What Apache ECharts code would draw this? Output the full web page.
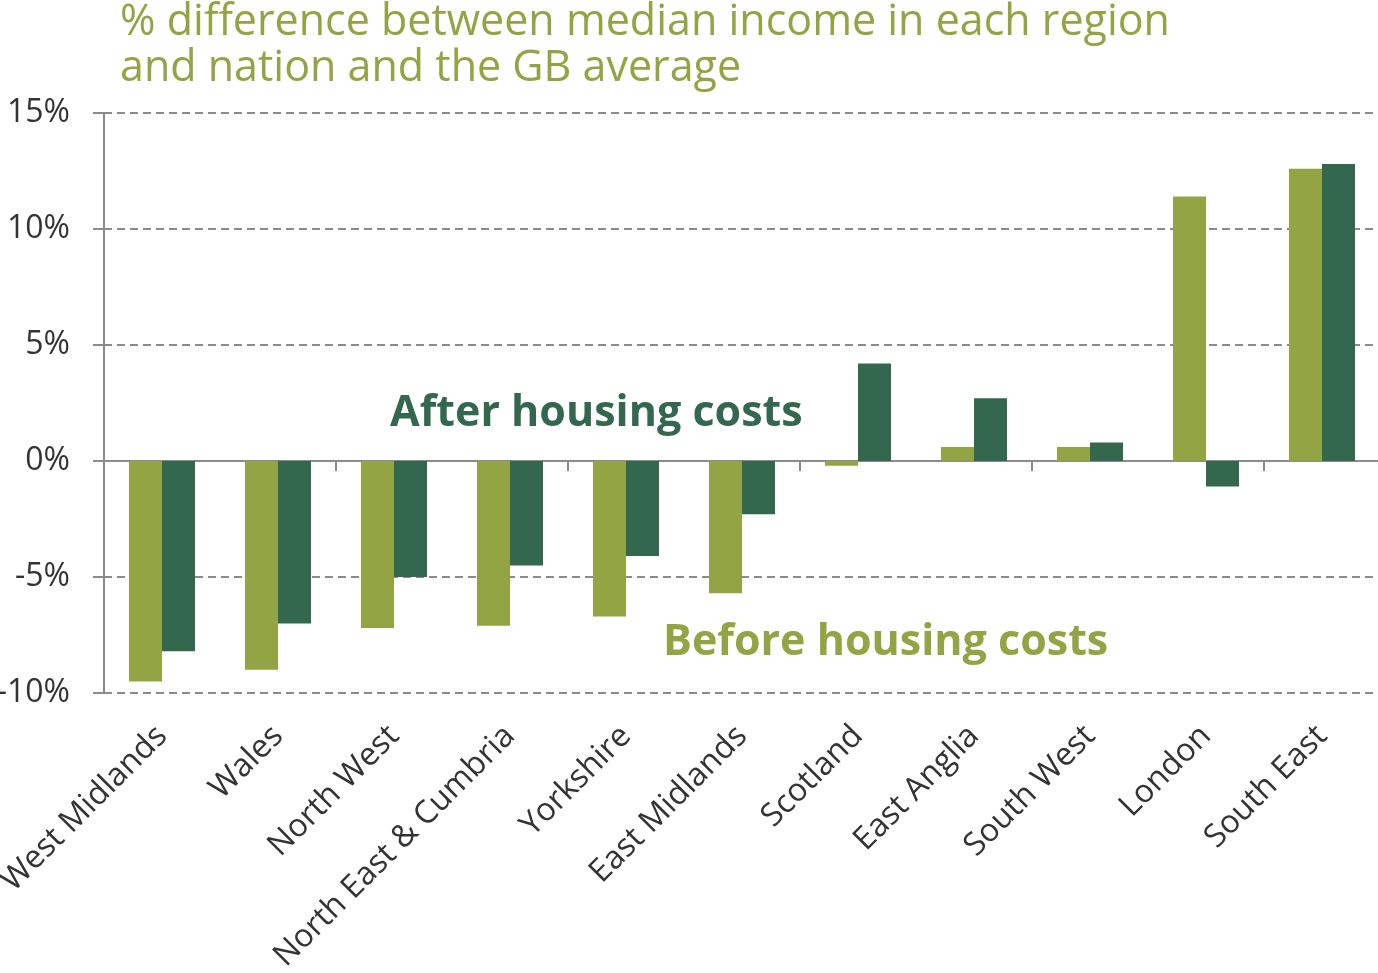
<!DOCTYPE html>
<html>
<head>
<meta charset="utf-8">
<script src="https://cdn.jsdelivr.net/npm/echarts@6/dist/echarts.min.js"></script>
<style>
  html, body { margin: 0; padding: 0; background: #fff; }
  #main { width: 1378px; height: 973px; }
</style>
</head>
<body>
<div id="main"></div>
<script>
// regions, ordered as in the chart
var regions = ['West Midlands', 'Wales', 'North West', 'North East & Cumbria', 'Yorkshire',
  'East Midlands', 'Scotland', 'East Anglia', 'South West', 'London', 'South East'];
// % difference from GB median
var beforeHousing = [-9.5, -9.0, -7.2, -7.1, -6.7, -5.7, -0.2, 0.6, 0.6, 11.4, 12.6];
var afterHousing = [-8.2, -7.0, -5.0, -4.5, -4.1, -2.3, 4.2, 2.7, 0.8, -1.1, 12.8];
var yTicks = { min: -10, max: 15, step: 5 };

var OLIVE = '#93a444';
var DARK = '#33684f';
var GREY = '#8c8c8c';
var FONT = '"Open Sans", "Noto Sans", sans-serif';

var chart = echarts.init(document.getElementById('main'));

chart.setOption({
  animation: false,
  title: {
    text: '% difference between median income in each region\nand nation and the GB average',
    left: 115,
    top: -5,
    textStyle: {
      color: OLIVE,
      fontFamily: FONT,
      fontSize: 43,
      fontWeight: 'normal',
      lineHeight: 46
    }
  },
  grid: {
    left: 104,
    top: 113,
    width: 1276,
    bottom: 280,
    containLabel: false,
    outerBoundsMode: 'none' // labels may run off the left edge, like the original
  },
  xAxis: [{
    // labels only, sitting at the bottom
    type: 'category',
    data: regions,
    position: 'bottom',
    axisLine: { show: false, onZero: false },
    axisTick: { show: false },
    axisLabel: {
      rotate: 45,
      margin: 38,
      color: '#333',
      fontFamily: FONT,
      fontSize: 32
    }
  }, {
    // zero line with the ticks
    type: 'category',
    data: regions,
    position: 'bottom',
    axisLine: { onZero: true, lineStyle: { color: GREY, width: 2 } },
    axisTick: { show: true, length: 10, lineStyle: { color: GREY, width: 2 } },
    axisLabel: { show: false }
  }],
  yAxis: {
    type: 'value',
    min: yTicks.min,
    max: yTicks.max,
    interval: yTicks.step,
    axisLine: { show: true, lineStyle: { color: GREY, width: 2 } },
    axisTick: { show: true, length: 11, lineStyle: { color: GREY, width: 2 } },
    axisLabel: {
      formatter: '{value}%',
      margin: 34,
      color: '#333',
      fontFamily: FONT,
      fontSize: 32
    },
    splitLine: {
      lineStyle: { color: GREY, width: 2, type: [8, 5] }
    }
  },
  series: [{
    name: 'Before housing costs',
    type: 'bar',
    xAxisIndex: 0,
    data: beforeHousing,
    barWidth: 33,
    barGap: '0%',
    itemStyle: { color: OLIVE }
  }, {
    name: 'After housing costs',
    type: 'bar',
    xAxisIndex: 0,
    data: afterHousing,
    barWidth: 33,
    barGap: '0%',
    itemStyle: { color: DARK }
  }],
  graphic: [{
    type: 'text',
    left: 390,
    top: 392,
    style: {
      text: 'After housing costs',
      fill: DARK,
      font: 'bold 43px ' + FONT
    }
  }, {
    type: 'text',
    left: 663,
    top: 621,
    style: {
      text: 'Before housing costs',
      fill: OLIVE,
      font: 'bold 43px ' + FONT
    }
  }]
});
</script>
</body>
</html>
